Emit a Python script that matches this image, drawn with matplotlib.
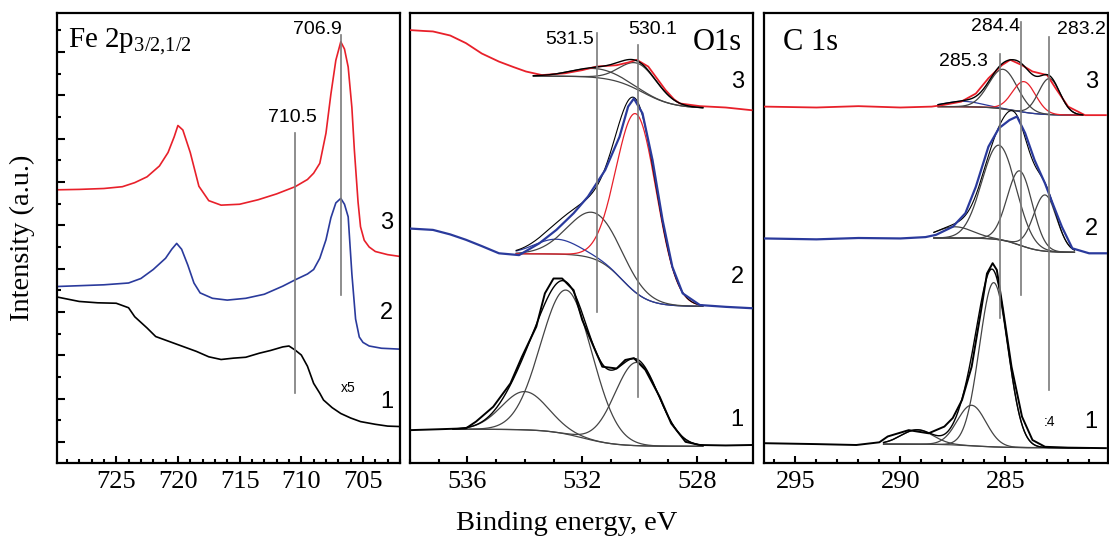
import numpy as np
import matplotlib
matplotlib.use("Agg")
import matplotlib.pyplot as plt
from matplotlib.ticker import MultipleLocator, FixedLocator, NullLocator

plt.rcParams['font.family'] = 'Liberation Serif'
plt.rcParams['mathtext.fontset'] = 'custom'
plt.rcParams['mathtext.rm'] = 'Liberation Serif'

# ---- measured spectra (binding energy eV, intensity a.u.) ----
# Fe 2p
fe3_e = [730, 728, 726, 724.5, 723.5, 722.5, 721.5, 720.8, 720.3, 720.0, 719.6, 719.0, 718.3, 717.5, 716.5,
         715.0, 713.5, 712.0, 710.5, 709.5, 709.0, 708.5, 708.0, 707.6, 707.2, 706.8, 706.5, 706.2, 705.9,
         705.7, 705.4, 705.2, 704.9, 704.5, 704.0, 703.0, 702.0]
fe3_i = [60.7, 60.8, 61.0, 61.4, 62.3, 63.6, 66.0, 69.0, 72.5, 75.0, 74.0, 69.0, 61.5, 58.3, 57.3,
         57.5, 58.5, 59.8, 61.4, 63.0, 64.4, 66.6, 73.3, 82.0, 89.5, 93.6, 92.0, 88.0, 79.0,
         69.6, 58.0, 52.5, 49.5, 48.0, 47.0, 46.3, 45.9]
fe2_e = [730, 728, 726, 724, 723, 722, 721, 720.5, 720.1, 719.7, 719.2, 718.7, 718.2, 717.2, 716.0,
         714.5, 713.0, 711.5, 710.5, 709.5, 709.0, 708.5, 708.0, 707.6, 707.2, 706.8, 706.5, 706.2,
         705.9, 705.6, 705.3, 705.0, 704.5, 703.5, 702.0]
fe2_i = [39.2, 39.4, 39.6, 40.0, 41.0, 43.0, 45.5, 47.5, 48.8, 47.5, 44.0, 40.0, 37.8, 36.6, 36.2,
         36.6, 37.5, 39.3, 40.7, 42.0, 43.0, 45.5, 49.6, 54.5, 57.8, 58.8, 57.5, 54.7,
         42.0, 32.0, 28.0, 26.8, 26.0, 25.5, 25.3]
fe1_e = [730, 728, 726.5, 725, 724, 723.5, 722.5, 721.8, 720.5, 719.5, 718.5, 717.5, 716.5, 715.5,
         714.5, 713.4, 712.5, 711.5, 711.0, 710.5, 710.0, 709.5, 709.0, 708.5, 708.2, 707.5, 706.8,
         706.0, 705.2, 704.0, 703.0, 702.0]
fe1_i = [37.0, 35.9, 35.6, 35.5, 34.5, 32.5, 30.0, 28.1, 26.8, 25.8, 24.8, 23.6, 23.0, 23.3,
         23.5, 24.4, 25.0, 25.8, 26.0, 25.1, 24.0, 21.5, 17.7, 15.5, 14.0, 12.3, 11.0,
         10.0, 9.2, 8.6, 8.2, 8.1]

# O 1s
o3_e = [538.0, 537.5, 537.2, 536.6, 536.05, 535.5, 534.9, 534.4, 533.96, 533.4, 532.6, 532.0, 531.5,
        530.8, 530.4, 530.1, 529.7, 529.4, 529.1, 528.8, 528.6, 527.9, 527.0, 526.1]
o3_i = [96.2, 96.0, 95.9, 95.0, 93.3, 91.0, 89.2, 88.0, 87.0, 86.2, 86.6, 87.3, 88.1,
        88.4, 89.0, 89.6, 88.1, 85.5, 82.9, 80.8, 79.9, 79.3, 79.0, 78.4]
o2_e = [538.0, 537.2, 536.6, 536.05, 535.5, 534.9, 534.2, 533.5, 532.9, 532.3, 531.8, 531.2, 530.7,
        530.4, 530.2, 529.9, 529.55, 529.2, 528.86, 528.5, 527.9, 527.0, 526.1]
o2_i = [52.1, 51.8, 50.8, 49.6, 48.2, 46.6, 46.2, 48.8, 51.8, 55.5, 59.2, 65.1, 72.5,
        79.2, 81.0, 77.7, 67.3, 54.0, 43.6, 37.7, 35.1, 34.7, 34.4]
o1_e = [538.0, 537.0, 536.05, 535.7, 535.1, 534.5, 534.1, 533.6, 533.3, 533.0, 532.7, 532.3, 532.0,
        531.6, 531.3, 530.8, 530.5, 530.2, 529.8, 529.3, 528.9, 528.4, 527.9, 527.0, 526.1]
o1_i = [7.3, 7.5, 7.7, 9.2, 12.5, 17.7, 23.6, 30.3, 37.7, 41.0, 41.0, 38.4, 31.8,
        25.8, 21.4, 21.0, 22.9, 23.3, 20.7, 14.7, 8.8, 4.7, 4.0, 3.9, 4.0]

# C 1s
c3_e = [296.5, 294, 292, 290, 288.5, 287.9, 287.1, 286.4, 285.8, 285.16, 284.76, 284.2, 283.7,
        283.0, 282.6, 282.0, 281.2, 280.2]
c3_i = [79.2, 79.0, 79.3, 79.0, 79.2, 79.6, 80.3, 82.1, 85.5, 88.4, 89.6, 88.4, 87.0,
        86.2, 83.3, 79.2, 77.3, 77.3]
c2_e = [296.5, 294, 292, 290, 288.8, 288.3, 287.5, 286.9, 286.4, 285.8, 285.3, 284.8, 284.44, 284.05,
        283.6, 283.1, 282.8, 282.3, 281.8, 281.0, 280.2]
c2_i = [49.9, 49.7, 50.0, 49.9, 50.2, 50.7, 52.5, 55.5, 61.4, 70.3, 74.4, 76.2, 77.0, 73.3,
        67.3, 62.1, 58.4, 52.5, 47.7, 46.6, 46.6]
c1_e = [296.5, 294, 292.1, 291.0, 290.6, 289.6, 288.65, 287.9, 287.5, 287.06, 286.6, 286.2, 285.87,
        285.6, 285.4, 285.1, 284.7, 284.2, 283.7, 283.1, 282.0, 280.2]
c1_i = [4.4, 4.2, 4.0, 4.6, 5.9, 7.3, 6.6, 8.1, 10.0, 14.0, 21.4, 32.5, 42.1,
        44.4, 42.9, 34.0, 21.4, 10.3, 5.1, 3.6, 3.4, 3.3]

# ---- fitted components: centre, height above background, FWHM ----
o3_pk = [[531.5, 2.0, 2.0], [530.0, 5.9, 1.5]]
o2_pk = [[532.9, 3.3, 1.8], [531.55, 10.3, 2.2], [530.1, 39.8, 1.65]]
o1_pk = [[534.0, 8.5, 1.9], [532.55, 32.0, 2.1], [530.1, 18.5, 1.8]]
c3_pk = [[287.0, 1.2, 2.0], [285.1, 8.8, 1.6], [284.1, 6.8, 1.3], [282.9, 8.0, 1.2]]
c2_pk = [[287.4, 2.5, 2.0], [285.3, 21.0, 1.9], [284.3, 16.5, 1.4], [283.1, 12.5, 1.3]]
c1_pk = [[289.2, 3.2, 1.8], [286.6, 9.0, 1.6], [285.55, 36.5, 1.6]]
# Shirley-type background: level on high-BE side, low-BE side, step centre, step width
o3_bg = [86.0, 78.8, 529.9, 1.1]
o2_bg = [46.5, 34.8, 530.6, 0.9]
o1_bg = [7.5, 3.7, 532.0, 1.2]
c3_bg = [79.2, 77.3, 284.5, 1.2]
c2_bg = [50.0, 46.8, 284.3, 1.0]
c1_bg = [4.2, 3.4, 286.5, 1.5]

# tick label values on the energy axes
fe_ticks = [725, 720, 715, 710, 705]
o_ticks = [536, 532, 528]
c_ticks = [295, 290, 285]

RED = '#e8202a'
BLUE = '#2a3a9c'
GREY = '#444444'
VLINE = '#7a7a7a'
SERIF = 'Liberation Serif'
SANS = 'Liberation Sans'


def gauss(x, c, h, w):
    return h * np.exp(-4 * np.log(2) * (x - c) ** 2 / w ** 2)


def background(x, bg):
    hi, lo, mid, wid = bg
    return lo + (hi - lo) * 0.5 * (1 + np.tanh((x - mid) / wid))


def draw_fit(ax, e_hi, e_lo, bg, peaks, colors):
    x = np.linspace(e_lo, e_hi, 400)
    b = background(x, bg)
    ax.plot(x, b, color=GREY, lw=0.9, zorder=2)
    env = b.copy()
    for (c, h, w), col in zip(peaks, colors):
        g = gauss(x, c, h, w)
        env += g
        ax.plot(x, b + g, color=col, lw=0.9, zorder=2)
    return x, env


fig = plt.figure(figsize=(11.09, 5.40), dpi=100)
W, H = 1109.0, 540.0
bottom = 1 - 463 / H
height = 450 / H
ax1 = fig.add_axes([57 / W, bottom, 343 / W, height])
ax2 = fig.add_axes([410 / W, bottom, 343 / W, height])
ax3 = fig.add_axes([764 / W, bottom, 344 / W, height])

for ax, ticks in ((ax1, fe_ticks), (ax2, o_ticks), (ax3, c_ticks)):
    ax.set_ylim(0, 100)
    for s in ax.spines.values():
        s.set_linewidth(1.6)
    ax.set_xticks(ticks)
    ax.set_xticklabels([str(t) for t in ticks], fontfamily=SERIF, fontsize=19)
    ax.xaxis.set_minor_locator(MultipleLocator(1))
    ax.tick_params(axis='x', which='both', direction='in', top=False, pad=6, width=1.5)
    ax.tick_params(axis='x', which='major', length=5)
    ax.tick_params(axis='x', which='minor', length=3)
    ax.yaxis.set_major_locator(NullLocator())
    ax.yaxis.set_minor_locator(NullLocator())

# ---- Fe 2p ----
ax1.set_xlim(729.8, 702)
ax1.yaxis.set_major_locator(FixedLocator(np.arange(4.7, 100, 9.63)))
ax1.yaxis.set_minor_locator(FixedLocator(np.arange(4.7 + 4.815, 100, 9.63)))
ax1.tick_params(axis='y', which='both', direction='in', left=True, labelleft=False, width=1.5)
ax1.tick_params(axis='y', which='major', length=6)
ax1.tick_params(axis='y', which='minor', length=3)
ax1.plot(fe3_e, fe3_i, color=RED, lw=1.2)
ax1.plot(fe2_e, fe2_i, color=BLUE, lw=1.2)
ax1.plot(fe1_e, fe1_i, color='black', lw=1.2)
ax1.plot([710.5, 710.5], [15.5, 73.3], color=VLINE, lw=1.2)
ax1.plot([706.8, 706.8], [37.3, 95.1], color=VLINE, lw=1.2)
ax1.text(710.7, 76.7, '710.5', family=SANS, fontsize=14, ha='center', va='center')
ax1.text(706.7, 96.4, '706.9', family=SANS, fontsize=14, ha='right', va='center')
ax1.text(728.9, 93.5, r'Fe 2p$_{\mathrm{3/2{,}1/2}}$', fontsize=21, ha='left', va='center')
for y, lab in zip([53.3, 33.3, 13.6], ['3', '2', '1']):
    ax1.text(703.1, y, lab, family=SANS, fontsize=17, ha='center', va='center')
ax1.text(706.2, 16.7, 'x5', family=SANS, fontsize=10, ha='center', va='center')

# ---- O 1s ----
ax2.set_xlim(538, 526.05)
x, env = draw_fit(ax2, 533.7, 527.8, o3_bg, o3_pk, [GREY, GREY])
ax2.plot(o3_e, o3_i, color=RED, lw=1.3, zorder=3)
ax2.plot(x, env, color='black', lw=1.0, zorder=4)
x, env = draw_fit(ax2, 534.3, 527.8, o2_bg, o2_pk, [BLUE, GREY, RED])
ax2.plot(x, env, color='black', lw=0.8, zorder=3)
ax2.plot(o2_e, o2_i, color=BLUE, lw=1.6, zorder=4)
x, env = draw_fit(ax2, 536.5, 527.8, o1_bg, o1_pk, [GREY, GREY, GREY])
ax2.plot(o1_e, o1_i, color='black', lw=1.4, zorder=3)
ax2.plot(x, env, color='black', lw=1.0, zorder=4)
ax2.plot([531.5, 531.5], [33.6, 95.5], color=VLINE, lw=1.2, zorder=5)
ax2.plot([530.07, 530.07], [14.7, 92.9], color=VLINE, lw=1.2, zorder=5)
ax2.text(531.6, 94.0, '531.5', family=SANS, fontsize=14, ha='right', va='center')
ax2.text(529.55, 96.4, '530.1', family=SANS, fontsize=14, ha='center', va='center')
ax2.text(527.3, 93.5, 'O1s', fontsize=22, ha='center', va='center')
for y, lab in zip([84.7, 41.4, 9.6], ['3', '2', '1']):
    ax2.text(526.6, y, lab, family=SANS, fontsize=17, ha='center', va='center')

# ---- C 1s ----
ax3.set_xlim(296.5, 280.1)
x, env = draw_fit(ax3, 288.2, 281.3, c3_bg, c3_pk, [BLUE, GREY, RED, GREY])
ax3.plot(c3_e, c3_i, color=RED, lw=1.3, zorder=3)
ax3.plot(x, env, color='black', lw=1.0, zorder=4)
x, env = draw_fit(ax3, 288.4, 281.7, c2_bg, c2_pk, [GREY, GREY, GREY, GREY])
ax3.plot(x, env, color='black', lw=0.8, zorder=3)
ax3.plot(c2_e, c2_i, color=BLUE, lw=1.6, zorder=4)
x, env = draw_fit(ax3, 290.8, 281.0, c1_bg, c1_pk, [GREY, GREY, GREY])
ax3.plot(c1_e, c1_i, color='black', lw=1.4, zorder=3)
ax3.plot(x, env, color='black', lw=1.0, zorder=4)
ax3.plot([285.27, 285.27], [32.2, 91.0], color=VLINE, lw=1.2, zorder=5)
ax3.plot([284.25, 284.25], [37.3, 98.1], color=VLINE, lw=1.2, zorder=5)
ax3.plot([282.9, 282.9], [16.2, 94.7], color=VLINE, lw=1.2, zorder=5)
ax3.text(285.85, 89.2, '285.3', family=SANS, fontsize=14, ha='right', va='center')
ax3.text(284.3, 97.0, '284.4', family=SANS, fontsize=14, ha='right', va='center')
ax3.text(282.55, 96.4, '283.2', family=SANS, fontsize=14, ha='left', va='center')
ax3.text(295.6, 93.5, 'C 1s', fontsize=22, ha='left', va='center')
for y, lab in zip([84.7, 52.1, 9.2], ['3', '2', '1']):
    ax3.text(280.9, y, lab, family=SANS, fontsize=17, ha='center', va='center')
ax3.text(282.9, 9.2, ':4', family=SANS, fontsize=10, ha='center', va='center')

fig.text(22 / W, 1 - 238 / H, 'Intensity (a.u.)', fontsize=20.5, rotation=90, ha='center', va='center')
fig.text(567 / W, 1 - 523 / H, 'Binding energy, eV', fontsize=20.5, ha='center', va='center')

fig.savefig('out.png', dpi=100)
